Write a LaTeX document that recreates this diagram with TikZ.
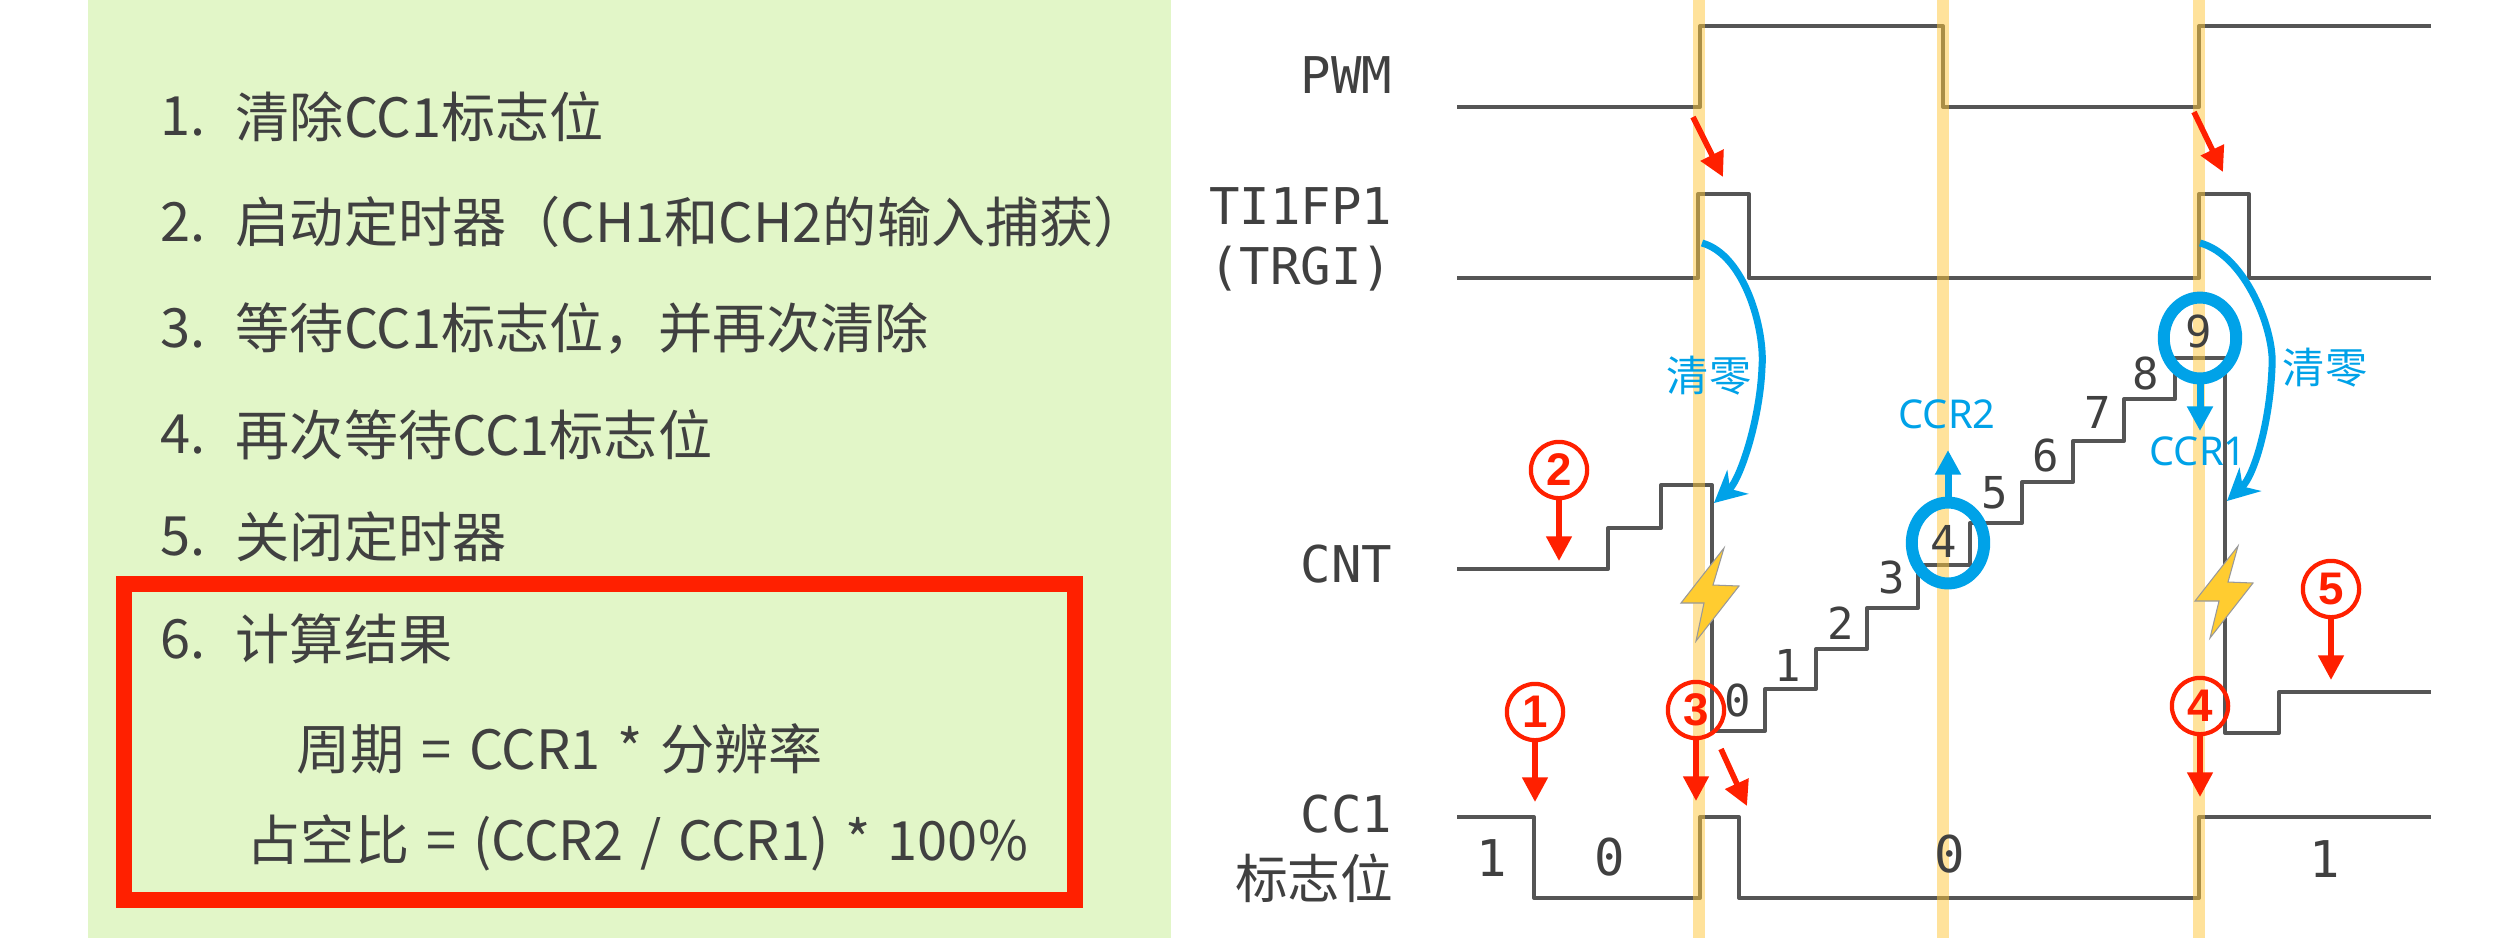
\documentclass[tikz,border=0pt]{standalone}
\usepackage{fontspec}
\usepackage{tikz}
\usetikzlibrary{arrows.meta, shapes.geometric}
\setmainfont{Noto Sans CJK SC}[WordSpace=1.4]
\newfontfamily\sigfont{DejaVu Sans Mono}
\newfontfamily\ccrfont{Noto Sans}
\newfontfamily\markfont{Liberation Sans}
\definecolor{panelbg}{RGB}{226,246,200}
\definecolor{inktext}{RGB}{64,64,64}
\definecolor{sigline}{RGB}{85,85,85}
\definecolor{edgeband}{RGB}{255,199,56}
\definecolor{markred}{RGB}{255,32,0}
\definecolor{clearblue}{RGB}{0,162,232}
\definecolor{boltfill}{RGB}{255,204,48}
\tikzset{
    listtext/.style={font=\fontsize{15.4}{18}\selectfont, text=inktext, anchor=west, inner sep=0pt},
    signame/.style={font=\fontsize{14.4}{17}\selectfont\sigfont, text=inktext, anchor=east, inner sep=0pt},
    cjkname/.style={font=\fontsize{15}{18}\selectfont, text=inktext, anchor=east, inner sep=0pt},
    wave/.style={sigline, line width=1.15pt, line join=round},
    cntnum/.style={font=\fontsize{12.5}{15}\selectfont\sigfont, text=inktext, inner sep=0pt},
    flagnum/.style={font=\fontsize{14.4}{17}\selectfont\sigfont, text=inktext, inner sep=0pt},
    stepmark/.style={circle, draw=markred, line width=1.2pt, minimum size=16pt, inner sep=0pt, text=markred, font=\fontsize{13}{15}\selectfont\markfont\bfseries},
    redarrow/.style={markred, line width=1.6pt, -{Triangle[length=7pt,width=7pt]}},
    bluearrow/.style={clearblue, line width=2pt, -{Triangle[length=7pt,width=7pt]}},
    clearcurve/.style={clearblue, line width=2pt, -{Stealth[length=9pt,width=9pt]}},
    capring/.style={ellipse, draw=clearblue, line width=3.4pt, minimum width=20.6pt, minimum height=23pt, inner sep=0pt},
    bluetext/.style={font=\fontsize{12}{14}\selectfont, text=clearblue, inner sep=0pt},
    ccrtext/.style={font=\fontsize{11.3}{13}\selectfont\ccrfont, text=clearblue, inner sep=0pt},
    bolt/.style={fill=boltfill, draw=black!40, line width=0.3pt}
}
\begin{document}
\begin{tikzpicture}[x=0.01cm, y=-0.01cm]
    \useasboundingbox (0,0) rectangle (2520,938);
    \fill[white] (0,0) rectangle (2520,938);

    % List panel
    \fill[panelbg] (88,0) rectangle (1171,938);
    \foreach \y/\n/\t in {117/1/清除CC1标志位, 222/2/启动定时器（CH1和CH2的输入捕获）, 328/3/等待CC1标志位，并再次清除, 435/4/再次等待CC1标志位, 537/5/关闭定时器, 639/6/计算结果} {
        \node[listtext] (num\n) at (160,\y) {\n.};
        \node[listtext] (item\n) at (235,\y) {\t};
    }
    \node[listtext] (period) at (296,749) {周期 = CCR1 * 分辨率};
    \node[listtext] (duty) at (246,843) {占空比 = (CCR2 / CCR1) * 100\%};
    \draw[markred, line width=4.55pt] (124,584) rectangle (1075,900);

    % Signal names
    \node[signame] (pwm) at (1393,75) {PWM};
    \node[signame] (ti1) at (1393,206) {TI1FP1};
    \node[signame] (trgi) at (1393,269) {(TRGI)};
    \node[signame] (cnt) at (1393,564) {CNT};
    \node[signame] (cc1) at (1393,814) {CC1};
    \node[cjkname] (flag) at (1394,878) {标志位};

    % Waveforms
    \draw[wave] (1457,107) -- (1700,107) -- (1700,26) -- (1943,26) -- (1943,107) -- (2199,107) -- (2199,26) -- (2431,26);
    \draw[wave] (1457,278) -- (1698,278) -- (1698,194) -- (1749,194) -- (1749,278) -- (2199,278) -- (2199,194) -- (2249,194) -- (2249,278) -- (2431,278);
    \draw[wave] (1457,569) -- (1608,569) -- (1608,528) -- (1661,528) -- (1661,485) -- (1712,485) -- (1712,731) -- (1765,731) -- (1765,689) -- (1816,689) -- (1816,649) -- (1867,649) -- (1867,608) -- (1918,608) -- (1918,565) -- (1970,565) -- (1970,523) -- (2022,523) -- (2022,482) -- (2073,482) -- (2073,441) -- (2124,441) -- (2124,399) -- (2175,399) -- (2175,358) -- (2225,358) -- (2225,733) -- (2279,733) -- (2279,692) -- (2431,692);
    \draw[wave] (1457,817) -- (1534,817) -- (1534,898) -- (1700,898) -- (1700,817) -- (1739,817) -- (1739,898) -- (2199,898) -- (2199,817) -- (2431,817);

    % Edge bands
    \foreach \x in {1699,1943,2199} {
        \fill[edgeband, opacity=0.5] (\x-6,0) rectangle (\x+6,938);
    }

    % Counter values
    \foreach \x/\y/\n in {1738/700/0, 1788/665/1, 1841/623/2, 1892/577/3, 1944/541/4, 1995/493/5, 2046/455/6, 2098/412/7, 2146/373/8, 2199/331/9} {
        \node[cntnum] (val\n) at (\x,\y) {\n};
    }

    % Flag values
    \node[flagnum] (flagA) at (1492,858) {1};
    \node[flagnum] (flagB) at (1610,857) {0};
    \node[flagnum] (flagC) at (1950,854) {0};
    \node[flagnum] (flagD) at (2325,859) {1};

    % Bolts
    \fill[bolt] (1724,548) -- (1713,585) -- (1739,586) -- (1696,641) -- (1704,603) -- (1681,603) -- cycle;
    \fill[bolt] (2238,546) -- (2228,582) -- (2253,583) -- (2210,638) -- (2219,601) -- (2195,601) -- cycle;

    % Clear curves
    \draw[clearcurve] (1702,243) .. controls (1745,255) and (1765,330) .. (1762,367) .. controls (1760,420) and (1740,480) .. (1714,503);
    \draw[clearcurve] (2200,243) .. controls (2245,255) and (2275,330) .. (2272,367) .. controls (2270,420) and (2255,475) .. (2227,501);
    \node[bluetext] (clrA) at (1709,376) {清零};
    \node[bluetext] (clrB) at (2325,368) {清零};

    % Capture rings
    \node[capring] (ringA) at (1948,543) {};
    \node[capring] (ringB) at (2200,338) {};
    \coordinate (ccrA) at (1948,450);
    \coordinate (ccrB) at (2200,431);
    \draw[bluearrow] (ringA.north) -- (ccrA);
    \draw[bluearrow] (ringB.south) -- (ccrB);
    \node[ccrtext] (ccr2) at (1947,414) {CCR2};
    \node[ccrtext] (ccr1) at (2198,451) {CCR1};

    % Step marks
    \foreach \x/\y/\n/\t in {1535/712/1/802, 1559/470/2/561, 1696/710/3/801, 2200/706/4/797, 2331/589/5/680} {
        \node[stepmark] (mark\n) at (\x,\y) {\n};
        \coordinate (tip\n) at (\x,\t);
        \draw[redarrow] (mark\n) -- (tip\n);
    }

    % Slanted arrows
    \coordinate (slantA) at (1693,117);
    \coordinate (slantB) at (1723,177);
    \coordinate (slantC) at (2194,112);
    \coordinate (slantD) at (2223,172);
    \coordinate (slantE) at (1721,749);
    \coordinate (slantF) at (1747,806);
    \draw[redarrow] (slantA) -- (slantB);
    \draw[redarrow] (slantC) -- (slantD);
    \draw[redarrow] (slantE) -- (slantF);
\end{tikzpicture}
\end{document}
